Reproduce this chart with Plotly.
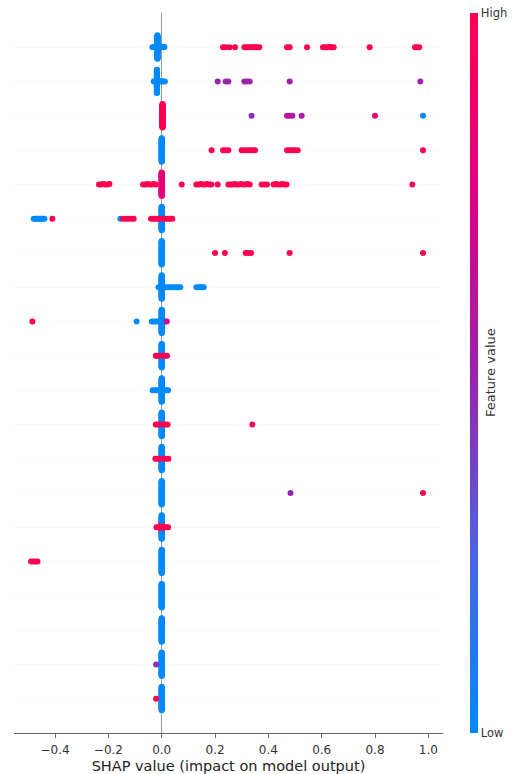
import numpy as np
import plotly.graph_objects as go

# ---------------------------------------------------------------------------
# SHAP summary (beeswarm) data, one entry per feature row, top row first
# ---------------------------------------------------------------------------
N_ROWS = 20

# Pile of samples sitting at (almost) zero impact for each feature
STACK_CENTER = [-0.016, -0.018, 0.003, 0.0, 0.0, 0.0, 0.0, 0.0, 0.0, 0.0,
                0.0, 0.0, 0.0, 0.0, 0.0, 0.0, 0.0, 0.0, 0.0, 0.0]
STACK_LOW = [60, 60, 0, 60, 0, 60, 60, 60, 60, 60,
             60, 55, 60, 60, 30, 60, 60, 60, 60, 60]
STACK_HIGH = [0, 0, 60, 0, 60, 0, 0, 0, 0, 0,
              0, 6, 0, 0, 30, 0, 0, 0, 0, 0]
STACK_HIGH_VALUE = [1.0, 1.0, 1.0, 1.0, 0.8, 1.0, 1.0, 1.0, 1.0, 1.0,
                    1.0, 0.6, 1.0, 1.0, 1.0, 1.0, 1.0, 1.0, 1.0, 1.0]

# Remaining samples with a low feature value (blue)
LOW_POINTS = [
    [-0.035, -0.03, -0.025, -0.005, 0.0, 0.005, 0.01],
    [-0.03, -0.025, -0.01, -0.005, 0.0, 0.005, 0.012],
    [0.98],
    [],
    [],
    [-0.48, -0.475, -0.47, -0.465, -0.46, -0.455, -0.45, -0.445, -0.44, -0.155],
    [],
    [-0.012, -0.005, 0.008, 0.016, 0.024, 0.032, 0.04, 0.048, 0.056, 0.063,
     0.07, 0.13, 0.137, 0.144, 0.151, 0.158],
    [-0.094, -0.037, -0.03, -0.022, -0.015, -0.008, 0.008, 0.015],
    [],
    [-0.034, -0.026, -0.018, -0.01, 0.01, 0.018, 0.024],
    [], [], [], [], [], [], [], [], [],
]

# Remaining samples with a high feature value (red)
HIGH_POINTS = [
    [0.23, 0.24, 0.255, 0.275, 0.31, 0.318, 0.326, 0.334, 0.342, 0.35, 0.358,
     0.366, 0.47, 0.48, 0.545, 0.605, 0.613, 0.621, 0.629, 0.637, 0.645, 0.78,
     0.95, 0.958, 0.966],
    [],
    [],
    [0.187, 0.23, 0.24, 0.25, 0.30, 0.31, 0.32, 0.33, 0.34, 0.35, 0.47, 0.48,
     0.49, 0.50, 0.51, 0.98],
    [-0.235, -0.227, -0.219, -0.211, -0.203, -0.196, -0.07, -0.062, -0.054,
     -0.046, -0.038, -0.03, -0.022, 0.075, 0.13, 0.138, 0.146, 0.154, 0.162,
     0.17, 0.178, 0.186, 0.21, 0.25, 0.258, 0.266, 0.274, 0.282, 0.29, 0.298,
     0.306, 0.314, 0.322, 0.33, 0.375, 0.385, 0.395, 0.42, 0.428, 0.436, 0.444,
     0.452, 0.46, 0.468, 0.94],
    [-0.41, -0.145, -0.135, -0.125, -0.115, -0.105, -0.04, -0.032, -0.024,
     -0.016, -0.008, 0.008, 0.016, 0.024, 0.032, 0.04],
    [0.20, 0.237, 0.315, 0.325, 0.335, 0.48, 0.98],
    [],
    [-0.485],
    [-0.022, -0.015, -0.008, 0.006, 0.013, 0.02],
    [],
    [-0.022, -0.015, -0.008, 0.008, 0.015, 0.022, 0.34],
    [-0.024, -0.016, -0.008, 0.008, 0.016, 0.025],
    [0.98],
    [-0.02, -0.012, -0.005, 0.008, 0.016, 0.024],
    [-0.49, -0.482, -0.474, -0.466],
    [],
    [],
    [],
    [-0.021],
]

# Samples with an intermediate feature value: (SHAP value, feature value)
MID_POINTS = [
    [],
    [(0.21, 0.5), (0.24, 0.5), (0.25, 0.5), (0.31, 0.5), (0.32, 0.5),
     (0.33, 0.5), (0.48, 0.5), (0.97, 0.5)],
    [(0.337, 0.45), (0.47, 0.58), (0.48, 0.6), (0.49, 0.58), (0.525, 0.55),
     (0.80, 0.82)],
    [], [], [], [], [],
    [(0.019, 0.7)],
    [], [], [], [],
    [(0.483, 0.5)],
    [], [], [], [],
    [(-0.021, 0.45)],
    [],
]

X_TICKS = [-0.4, -0.2, 0.0, 0.2, 0.4, 0.6, 0.8, 1.0]
X_RANGE = [-0.554, 1.055]

# shap "red_blue" colour map (LCH blend blue -> purple -> red)
RED_BLUE = [
    [0.0, "#008afb"],
    [0.25, "#4b63e3"],
    [0.5, "#9b23ad"],
    [0.75, "#e00086"],
    [1.0, "#ff0051"],
]


def swarm_offsets(values, nbins=100, row_height=0.4):
    """Beeswarm vertical offsets: pile points that share a quantised x bin."""
    v = np.asarray(values, dtype=float)
    quant = np.round(nbins * (v - v.min()) / (v.max() - v.min() + 1e-8))
    order = np.argsort(quant, kind="stable")
    ys = np.zeros(len(v))
    layer, last_bin = 0, None
    for ind in order:
        if quant[ind] != last_bin:
            layer = 0
        ys[ind] = np.ceil(layer / 2) * ((layer % 2) * 2 - 1)
        layer += 1
        last_bin = quant[ind]
    ys *= 0.9 * (row_height / np.max(ys + 1))
    return ys


xs, ys, cs = [], [], []
for i in range(N_ROWS):
    pos = N_ROWS - 1 - i
    shap = [STACK_CENTER[i]] * (STACK_HIGH[i] + STACK_LOW[i])
    fval = [STACK_HIGH_VALUE[i]] * STACK_HIGH[i] + [0.0] * STACK_LOW[i]
    shap += LOW_POINTS[i]
    fval += [0.0] * len(LOW_POINTS[i])
    shap += [p[0] for p in MID_POINTS[i]]
    fval += [p[1] for p in MID_POINTS[i]]
    shap += HIGH_POINTS[i]
    fval += [1.0] * len(HIGH_POINTS[i])
    off = swarm_offsets(shap)
    xs.extend(shap)
    ys.extend(pos + off)
    cs.extend(fval)

fig = go.Figure()

# faint dotted guide line for each feature row
for pos in range(N_ROWS):
    fig.add_shape(type="line", xref="paper", x0=0, x1=1, yref="y", y0=pos, y1=pos,
                  line=dict(color="#e2e2e2", width=1, dash="1px,3px"), layer="below")

fig.add_trace(go.Scatter(
    x=xs, y=ys, mode="markers",
    marker=dict(size=6, color=cs, coloraxis="coloraxis", line=dict(width=0), opacity=1),
    hoverinfo="skip", showlegend=False,
))

fig.add_annotation(
    text="Feature value", xref="paper", yref="paper", x=1.1096, y=0.5,
    textangle=-90, showarrow=False, xanchor="center", yanchor="middle",
    font=dict(size=13, color="#333333"),
)

fig.update_layout(
    width=532, height=774,
    margin=dict(l=14, r=89, t=13, b=41, autoexpand=False),
    paper_bgcolor="white", plot_bgcolor="white",
    font=dict(family="DejaVu Sans", color="#333333"),
    xaxis=dict(
        range=X_RANGE, tickvals=X_TICKS, tickformat=".1f", automargin=False,
        showgrid=False, zeroline=True, zerolinecolor="#999999", zerolinewidth=1,
        showline=True, linecolor="#666666", linewidth=1,
        ticks="outside", ticklen=4, tickcolor="#666666", tickwidth=1,
        ticklabelstandoff=2,
        tickfont=dict(size=12, color="#333333"),
        title=dict(text="SHAP value (impact on model output)",
                   font=dict(size=14.5, color="#222222"), standoff=6),
    ),
    yaxis=dict(
        range=[-1, N_ROWS], showticklabels=False, showgrid=False,
        zeroline=False, showline=False, ticks="",
    ),
    coloraxis=dict(
        cmin=0, cmax=1, colorscale=RED_BLUE,
        colorbar=dict(
            thickness=8, thicknessmode="pixels", len=720, lenmode="pixels",
            x=1.063, xanchor="left", y=1, yanchor="top", xpad=0, ypad=0,
            outlinewidth=0, tickvals=[0, 1], ticktext=["Low", "High"], ticks="",
            tickfont=dict(size=11.5, color="#333333"),
        ),
    ),
)

fig.write_html("out.html")
